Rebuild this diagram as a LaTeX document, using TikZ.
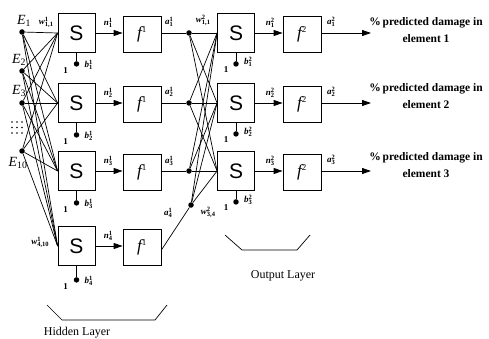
\documentclass[tikz,border=0pt]{standalone}
\usepackage{fontspec}
\setmainfont{Liberation Serif}
\newfontfamily\sfont{Liberation Sans}
\usetikzlibrary{arrows.meta}
\newcommand\lbl[3]{\textit{#1}\rlap{\raisebox{3.2pt}{\fontsize{6.5}{6.5}\selectfont #2}}\raisebox{-1.8pt}{\fontsize{6.5}{6.5}\selectfont #3}}
\tikzset{
  sbox/.style={draw, line width=0.8pt, minimum width=37pt, minimum height=39pt, inner sep=0pt, font=\sfont\fontsize{21}{21}\selectfont},
  fbox/.style={draw, line width=0.8pt, minimum width=38pt, minimum height=36pt, inner sep=0pt, font=\fontsize{17}{17}\selectfont\itshape},
  dotn/.style={circle, fill, inner sep=0pt, minimum size=5.5pt},
  sm/.style={font=\fontsize{9}{9}\selectfont\bfseries, inner sep=0pt},
  wire/.style={line width=0.7pt},
  arr/.style={line width=0.8pt, -{Triangle[length=9pt,width=6pt]}},
  outtxt/.style={font=\fontsize{11.5}{17}\selectfont\bfseries, align=center, inner sep=0pt},
  lay/.style={font=\fontsize{12}{12}\selectfont, inner sep=0pt},
  one/.style={font=\fontsize{9}{9}\selectfont\bfseries, inner sep=0pt},
  elab/.style={font=\fontsize{14}{14}\selectfont\itshape, inner sep=0pt}
}
\begin{document}
\begin{tikzpicture}[x=1pt,y=-1pt]
\useasboundingbox (0,0) rectangle (489,339);
% inputs
\node[dotn] (e1) at (22,32) {};
\node[dotn] (e2) at (22,71) {};
\node[dotn] (e3) at (22,103) {};
\node[dotn] (e10) at (22,151) {};
\node[elab] (le1) at (24,21) {E\textsubscript{\upshape 1}};
\node[elab] (le2) at (19,60) {E\textsubscript{\upshape 2}};
\node[elab] (le3) at (19,91) {E\textsubscript{\upshape 3}};
\node[elab] (le10) at (18,163) {E\textsubscript{\upshape 10}};
\foreach \xx in {12,17,22}{\foreach \yy in {122,127.5,133}{\fill (\xx,\yy) circle (0.8pt);}}
% hidden layer
\foreach \i/\yy in {1/33,2/103,3/171,4/246}{
  \node[sbox] (s\i) at (76.5,\yy) {S};
  \node[fbox] (f\i) at (142,\yy+1) {f\textsuperscript{\upshape\fontsize{9}{9}\selectfont 1}};
  \draw[arr] (s\i.east) -- (f\i.west|-s\i.east);
  \node[sm] (n\i) at (108,\yy-10) {\lbl{n}{1}{\i}};
}
\foreach \i/\dy in {1/11,2/12,3/12,4/14}{
  \node[dotn] (bd\i) at ([yshift=-\dy pt]s\i.south) {};
  \draw[wire] (s\i.south) -- (bd\i);
  \node[one] (one\i) at ([xshift=-11pt,yshift=-7pt]bd\i) {1};
  \node[sm] (bl\i) at ([xshift=12pt,yshift=-1pt]bd\i) {\lbl{b}{1}{\i}};
}
\foreach \e in {e1,e2,e3,e10}{\foreach \s in {s1,s2,s3,s4}{\draw[wire] (\e) -- (\s.west);}}
\node[sm] (w111) at (46,22) {\lbl{w}{1}{1,1}};
\node[sm] (w1410) at (40,242) {\lbl{w}{1}{4,10}};
% hidden -> output
\node[dotn] (d1) at (189,33) {};
\node[dotn] (d2) at (189,103) {};
\node[dotn] (d3) at (189,171) {};
\node[dotn] (d4) at (191,205) {};
\draw[wire] (f1.east|-d1) -- (d1);
\draw[wire] (f2.east|-d2) -- (d2);
\draw[wire] (f3.east|-d3) -- (d3);
\draw[wire] ([yshift=-3pt]f4.east) -- (d4);
\node[sm] (a1) at (169,22) {\lbl{a}{1}{1}};
\node[sm] (a2) at (169,92) {\lbl{a}{1}{2}};
\node[sm] (a3) at (169,161) {\lbl{a}{1}{3}};
\node[sm] (a4) at (168,213) {\lbl{a}{1}{4}};
% output layer
\foreach \i/\yy in {1/33,2/103,3/171}{
  \node[sbox] (o\i) at (236,\yy) {S};
  \node[fbox] (g\i) at (302,\yy+1) {f\textsuperscript{\upshape\fontsize{9}{9}\selectfont 2}};
  \draw[arr] (o\i.east) -- (g\i.west|-o\i.east);
  \node[sm] (m\i) at (270,\yy-10) {\lbl{n}{2}{\i}};
  \node[dotn] (cd\i) at ([yshift=-11pt]o\i.south) {};
  \draw[wire] (o\i.south) -- (cd\i);
  \node[one] (two\i) at ([xshift=-10pt,yshift=-6pt]cd\i) {1};
  \node[sm] (cl\i) at ([xshift=12pt,yshift=2pt]cd\i) {\lbl{b}{2}{\i}};
  \coordinate (t\i) at (371,\yy);
  \draw[arr] (g\i.east|-o\i.east) -- (t\i);
  \node[sm] (oa\i) at (331,\yy-11) {\lbl{a}{2}{\i}};
}
\foreach \d in {d1,d2,d3,d4}{\foreach \s in {o1,o2,o3}{\draw[wire] (\d) -- (\s.west);}}
\node[sm] (w211) at (203,20) {\lbl{w}{2}{1,1}};
\node[sm] (w234) at (208,212) {\lbl{w}{2}{3,4}};
% output texts
\node[outtxt] (x1) at (426,30) {\%\,predicted damage in\\element 1};
\node[outtxt] (x2) at (426,96) {\%\,predicted damage in\\element 2};
\node[outtxt] (x3) at (426,165) {\%\,predicted damage in\\element 3};
% brackets
\draw[line width=0.7pt] (47,305) -- (62,320) -- (155,320) -- (167,305);
\node[lay] (hl) at (77,333) {Hidden Layer};
\draw[line width=0.7pt] (225,235) -- (242,250) -- (297,250) -- (310,235);
\node[lay] (ol) at (283,276) {Output Layer};
\end{tikzpicture}
\end{document}
